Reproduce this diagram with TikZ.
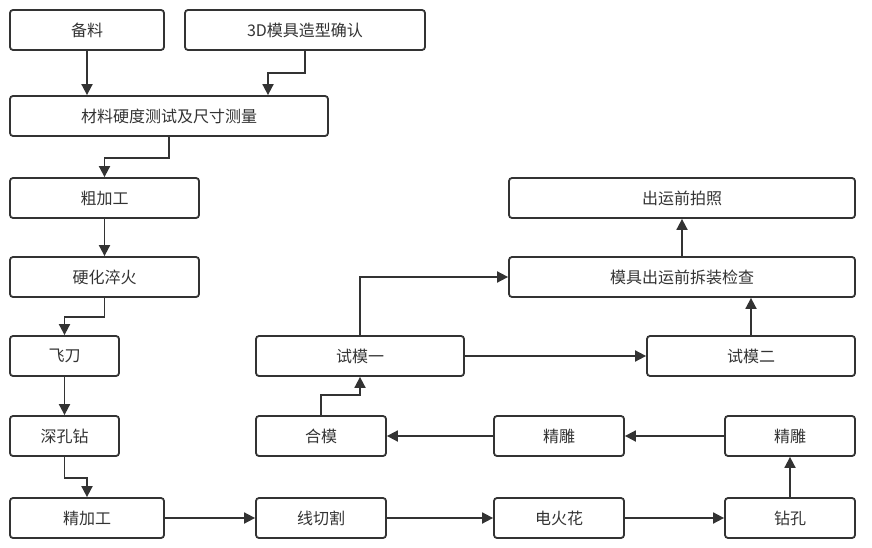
\documentclass[tikz,border=0pt]{standalone}
\usepackage{fontspec}
\setmainfont{Noto Sans CJK SC}
\usepackage{tikz}
\usetikzlibrary{positioning,calc,arrows.meta}
\definecolor{linec}{HTML}{333333}

\begin{document}
\begin{tikzpicture}[x=1pt,y=-1pt,
  font=\fontsize{16}{18}\selectfont,
  stepbox/.style={draw=linec, line width=1.8pt, rounded corners=3pt, text=linec, minimum height=40pt, inner sep=0pt},
  flow/.style={draw=linec, line width=1.8pt, -{Triangle[length=11pt,width=11pt]}}]
  \useasboundingbox (0,0) rectangle (872,548);
  % left column
  \node[stepbox, minimum width=154pt] (bl) at (87,30){备料};
  \node[stepbox, minimum width=240pt] (mx) at (305,30){3D模具造型确认};
  \node[stepbox, minimum width=318pt] (cl) at (169,116){材料硬度测试及尺寸测量};
  \node[stepbox, minimum width=189pt] (cj) at (104.5,198){粗加工};
  \node[stepbox, minimum width=189pt] (yh) at (104.5,277){硬化淬火};
  \node[stepbox, minimum width=109pt] (fd) at (64.5,356){飞刀};
  \node[stepbox, minimum width=109pt] (sk) at (64.5,436){深孔钻};
  \node[stepbox, minimum width=154pt] (jj) at (87,518){精加工};
  % bottom row
  \node[stepbox, minimum width=130pt] (xq) at (321,518){线切割};
  \node[stepbox, minimum width=130pt] (dh) at (559,518){电火花};
  \node[stepbox, minimum width=130pt] (zk) at (790,518){钻孔};
  % middle row
  \node[stepbox, minimum width=130pt] (jd2) at (790,436){精雕};
  \node[stepbox, minimum width=130pt] (jd1) at (559,436){精雕};
  \node[stepbox, minimum width=130pt] (hm) at (321,436){合模};
  % trial and shipping
  \node[stepbox, minimum width=208pt] (sm1) at (360,356){试模一};
  \node[stepbox, minimum width=208pt] (sm2) at (751,356){试模二};
  \node[stepbox, minimum width=346pt] (jc) at (682,277){模具出运前拆装检查};
  \node[stepbox, minimum width=346pt] (pz) at (682,198){出运前拍照};
  % connectors
  \draw[flow] (bl) -- (bl |- cl.north);
  \draw[flow] (mx.south) -- ++(0,22) -| ($(cl.north)+(99,0)$);
  \draw[flow] (cl.south) -- ++(0,21) -| (cj.north);
  \draw[flow] (cj) -- (yh);
  \draw[flow] (yh.south) -- ++(0,19) -| (fd.north);
  \draw[flow] (fd) -- (sk);
  \draw[flow] (sk.south) -- ++(0,21) -| (jj.north);
  \draw[flow] (jj) -- (xq);
  \draw[flow] (xq) -- (dh);
  \draw[flow] (dh) -- (zk);
  \draw[flow] (zk) -- (jd2);
  \draw[flow] (jd2) -- (jd1);
  \draw[flow] (jd1) -- (hm);
  \draw[flow] (hm.north) -- ++(0,-20) -| (sm1.south);
  \draw[flow] (sm1) -- (sm2);
  \draw[flow] (sm1.north) |- (jc.west);
  \draw[flow] (sm2.north) -- (sm2.north |- jc.south);
  \draw[flow] (jc) -- (pz);
\end{tikzpicture}
\end{document}
